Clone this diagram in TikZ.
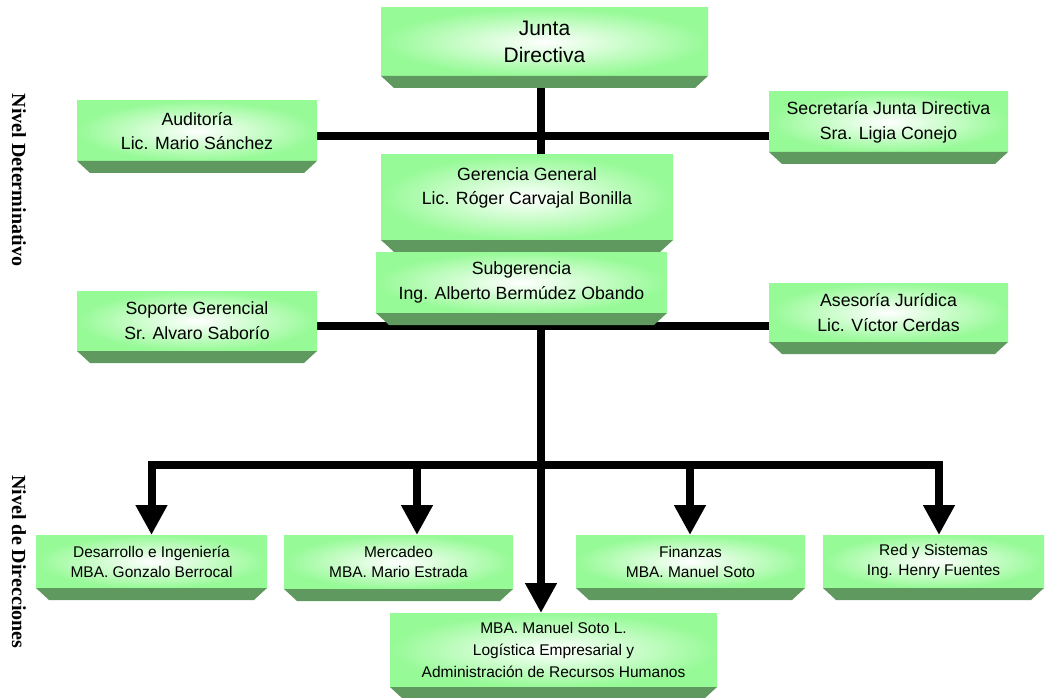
\documentclass[tikz,border=0pt]{standalone}
\usepackage{fontspec}
\setmainfont{Liberation Sans}
\newfontfamily\serifb{Liberation Serif}
\usetikzlibrary{arrows.meta,backgrounds,calc}
\definecolor{facegreen}{RGB}{150,250,150}
\definecolor{bevelgreen}{RGB}{96,153,96}
\tikzset{
  face/.style={shade, shading=radial, inner color=white, outer color=facegreen, draw=none, inner sep=0pt, outer sep=0pt},
  bevel/.style={fill=bevelgreen},
  conn/.style={line width=8pt, black, line join=miter},
  arr/.style={-{Triangle[width=30pt,length=30pt]}},
  bigtxt/.style={align=center, font=\fontsize{21}{27}\selectfont},
  midtxt/.style={align=center, font=\fontsize{17.7}{24.7}\selectfont},
  smalltxt/.style={align=center, font=\fontsize{15.5}{20}\selectfont},
  lvl/.style={rotate=-90, font=\serifb\bfseries\fontsize{20}{24}\selectfont}
}
\newcommand\orgbox[5]{%
  \node[face, minimum width={(#4-#2)*1pt}, minimum height={(#5-#3)*1pt}] (#1) at ({(#2+#4)/2},{(#3+#5)/2}) {};
  \fill[bevel] (#1.south west) -- (#1.south east) -- ++(-13,12) -- ($(#1.south west)+(13,12)$) -- cycle;
}
\begin{document}
\begin{tikzpicture}[x=1pt,y=-1pt]
\useasboundingbox (0,0) rectangle (1045,698);
% boxes
\orgbox{junta}{381}{8}{708}{76}
\orgbox{auditoria}{77}{101}{317}{161}
\orgbox{secretaria}{769}{92}{1008}{152}
\orgbox{gerencia}{381}{155}{673}{240}
\orgbox{subgerencia}{376}{252}{667}{313}
\orgbox{soporte}{77}{291}{317}{351}
\orgbox{asesoria}{769}{283}{1008}{342}
\orgbox{desarrollo}{36}{535}{267}{588}
\orgbox{mercadeo}{284}{535}{513}{589}
\orgbox{finanzas}{576}{535}{805}{588}
\orgbox{red}{823}{535}{1044}{588}
\orgbox{logistica}{390}{613}{717}{687}
% texts
\node[bigtxt] (juntaT) at (junta) {Junta\\Directiva};
\node[midtxt] (auditoriaT) at (auditoria) {Auditoría\\Lic. Mario Sánchez};
\node[midtxt] (secretariaT) at (secretaria) {Secretaría Junta Directiva\\Sra. Ligia Conejo};
\node[midtxt] (gerenciaT) at (gerencia.center |- 0,188) {Gerencia General\\Lic. Róger Carvajal Bonilla};
\node[midtxt] (subgerenciaT) at (subgerencia) {Subgerencia\\Ing. Alberto Bermúdez Obando};
\node[midtxt] (soporteT) at (soporte) {Soporte Gerencial\\Sr. Alvaro Saborío};
\node[midtxt] (asesoriaT) at (asesoria) {Asesoría Jurídica\\Lic. Víctor Cerdas};
\node[smalltxt] (desarrolloT) at (desarrollo) {Desarrollo e Ingeniería\\MBA. Gonzalo Berrocal};
\node[smalltxt] (mercadeoT) at (mercadeo) {Mercadeo\\MBA. Mario Estrada};
\node[smalltxt] (finanzasT) at (finanzas) {Finanzas\\MBA. Manuel Soto};
\node[smalltxt] (redT) at (red) {Red y Sistemas\\Ing. Henry Fuentes};
\node[smalltxt, font=\fontsize{15.5}{22}\selectfont] (logisticaT) at (logistica) {MBA. Manuel Soto L.\\Logística Empresarial y\\Administración de Recursos Humanos};
% level labels
\node[lvl] (lvlA) at (19,180) {Nivel Determinativo};
\node[lvl] (lvlB) at (19,562) {Nivel de Direcciones};
% connectors
\coordinate (vx) at (541,0);
\coordinate (h1) at (0,136);
\coordinate (h2) at (0,326);
\coordinate (bus) at (541,465);
\coordinate (mx) at (417,0);
\coordinate (fx) at (690,0);
\coordinate (rx) at (939,0);
\begin{pgfonlayer}{background}
\draw[conn, arr] (junta.south -| vx) -- (logistica.north -| vx);
\draw[conn] (h1 -| auditoria.east) -- (h1 -| secretaria.west);
\draw[conn] (h2 -| soporte.east) -- (h2 -| asesoria.west);
\draw[conn, arr] (bus) -| (desarrollo.north);
\draw[conn, arr] (bus) -| (mercadeo.north -| mx);
\draw[conn, arr] (bus) -| (finanzas.north -| fx);
\draw[conn, arr] (bus) -| (red.north -| rx);
\end{pgfonlayer}
\end{tikzpicture}
\end{document}
